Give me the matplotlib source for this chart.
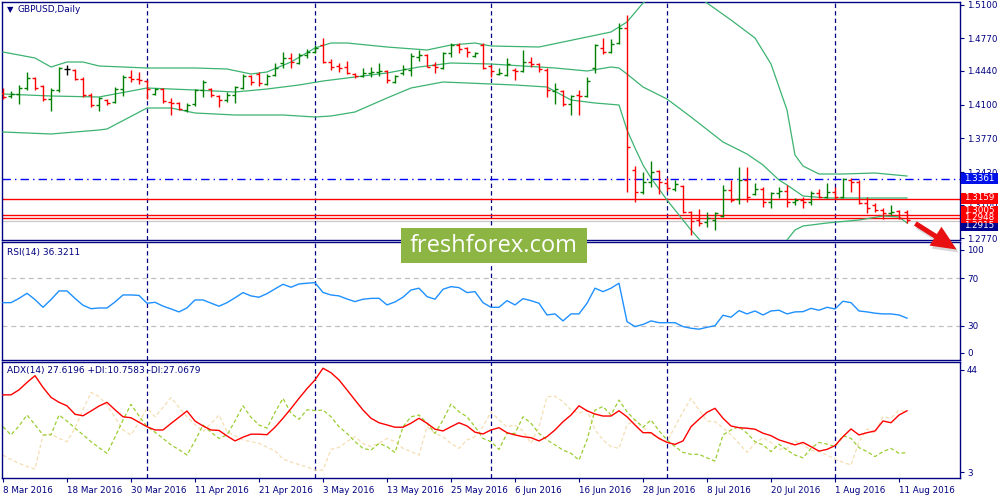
import matplotlib
matplotlib.use("Agg")
import matplotlib.pyplot as plt
from matplotlib.patches import Rectangle, FancyArrowPatch

# ---- data (GBPUSD daily, 8 Mar - 12 Aug 2016) ----
tick_idx = [0, 8, 16, 24, 32, 40, 48, 56, 64, 72, 80, 88, 96, 104, 112]
tick_lbl = ["8 Mar 2016", "18 Mar 2016", "30 Mar 2016", "11 Apr 2016", "21 Apr 2016",
            "3 May 2016", "13 May 2016", "25 May 2016", "6 Jun 2016", "16 Jun 2016",
            "28 Jun 2016", "8 Jul 2016", "20 Jul 2016", "1 Aug 2016", "11 Aug 2016"]
month_idx = [18, 39, 61, 83, 104]   # first bar of Apr, May, Jun, Jul, Aug

opens = [1.422, 1.419, 1.421, 1.427, 1.437, 1.429, 1.416, 1.425, 1.446, 1.445,
         1.436, 1.420, 1.410, 1.415, 1.413, 1.426, 1.438, 1.436, 1.434, 1.421,
         1.426, 1.413, 1.412, 1.405, 1.411, 1.425, 1.426, 1.419, 1.415, 1.420,
         1.427, 1.439, 1.441, 1.431, 1.440, 1.452, 1.457, 1.452, 1.460, 1.463,
         1.470, 1.453, 1.449, 1.448, 1.441, 1.439, 1.442, 1.443, 1.444, 1.433,
         1.442, 1.445, 1.458, 1.460, 1.450, 1.447, 1.462, 1.470, 1.467, 1.459,
         1.470, 1.449, 1.441, 1.440, 1.445, 1.444, 1.453, 1.451, 1.445, 1.424,
         1.424, 1.411, 1.420, 1.419, 1.447, 1.467, 1.463, 1.472, 1.487, 1.345,
         1.323, 1.333, 1.344, 1.332, 1.326, 1.329, 1.303, 1.295, 1.293, 1.295,
         1.299, 1.325, 1.316, 1.335, 1.321, 1.326, 1.313, 1.322, 1.324, 1.313,
         1.315, 1.313, 1.322, 1.318, 1.323, 1.318, 1.335, 1.333, 1.312, 1.310,
         1.305, 1.302, 1.304, 1.303]
highs = [1.427, 1.424, 1.430, 1.443, 1.438, 1.430, 1.427, 1.448, 1.450, 1.446,
         1.438, 1.422, 1.418, 1.416, 1.428, 1.440, 1.445, 1.443, 1.435, 1.427,
         1.427, 1.417, 1.413, 1.412, 1.426, 1.435, 1.427, 1.420, 1.423, 1.429,
         1.441, 1.440, 1.443, 1.441, 1.452, 1.463, 1.462, 1.462, 1.466, 1.470,
         1.477, 1.456, 1.452, 1.454, 1.442, 1.447, 1.448, 1.452, 1.445, 1.440,
         1.450, 1.462, 1.465, 1.461, 1.453, 1.463, 1.472, 1.472, 1.468, 1.463,
         1.472, 1.450, 1.447, 1.457, 1.447, 1.465, 1.458, 1.452, 1.447, 1.432,
         1.425, 1.420, 1.425, 1.438, 1.471, 1.477, 1.476, 1.492, 1.500, 1.349,
         1.343, 1.354, 1.345, 1.337, 1.335, 1.330, 1.304, 1.306, 1.303, 1.303,
         1.330, 1.335, 1.348, 1.348, 1.332, 1.328, 1.323, 1.328, 1.330, 1.317,
         1.318, 1.324, 1.326, 1.332, 1.328, 1.337, 1.337, 1.335, 1.318, 1.312,
         1.307, 1.310, 1.305, 1.305]
lows = [1.416, 1.417, 1.411, 1.425, 1.425, 1.414, 1.404, 1.423, 1.440, 1.435,
        1.418, 1.408, 1.404, 1.410, 1.412, 1.419, 1.433, 1.431, 1.416, 1.420,
        1.412, 1.400, 1.405, 1.403, 1.409, 1.418, 1.418, 1.408, 1.413, 1.412,
        1.426, 1.430, 1.429, 1.430, 1.439, 1.447, 1.447, 1.451, 1.457, 1.462,
        1.452, 1.445, 1.443, 1.441, 1.437, 1.438, 1.438, 1.439, 1.432, 1.432,
        1.440, 1.439, 1.454, 1.448, 1.442, 1.446, 1.458, 1.462, 1.458, 1.458,
        1.446, 1.438, 1.440, 1.439, 1.435, 1.443, 1.448, 1.443, 1.418, 1.411,
        1.409, 1.400, 1.400, 1.418, 1.442, 1.461, 1.462, 1.471, 1.323, 1.313,
        1.321, 1.328, 1.321, 1.324, 1.324, 1.302, 1.280, 1.289, 1.288, 1.285,
        1.298, 1.313, 1.311, 1.313, 1.320, 1.308, 1.307, 1.317, 1.308, 1.310,
        1.307, 1.310, 1.317, 1.317, 1.316, 1.317, 1.323, 1.311, 1.302, 1.303,
        1.296, 1.300, 1.296, 1.292]
closes = [1.418, 1.421, 1.427, 1.437, 1.427, 1.416, 1.425, 1.447, 1.446, 1.436,
          1.420, 1.410, 1.417, 1.412, 1.426, 1.438, 1.436, 1.435, 1.426, 1.426,
          1.414, 1.412, 1.406, 1.410, 1.425, 1.433, 1.420, 1.415, 1.420, 1.428,
          1.439, 1.433, 1.432, 1.439, 1.447, 1.457, 1.453, 1.460, 1.463, 1.467,
          1.453, 1.448, 1.447, 1.442, 1.439, 1.442, 1.443, 1.444, 1.435, 1.439,
          1.446, 1.459, 1.460, 1.448, 1.448, 1.462, 1.470, 1.466, 1.463, 1.462,
          1.447, 1.444, 1.442, 1.451, 1.444, 1.453, 1.451, 1.446, 1.425, 1.426,
          1.411, 1.419, 1.419, 1.434, 1.470, 1.463, 1.471, 1.487, 1.368, 1.323,
          1.333, 1.343, 1.333, 1.327, 1.331, 1.303, 1.294, 1.292, 1.297, 1.302,
          1.325, 1.315, 1.335, 1.318, 1.326, 1.313, 1.322, 1.324, 1.313, 1.315,
          1.313, 1.322, 1.318, 1.323, 1.318, 1.336, 1.333, 1.312, 1.307, 1.305,
          1.302, 1.303, 1.297, 1.2948]

# Bollinger bands (20, 2), sampled along the curves
bb_up_idx = [0, 4, 6, 8, 10, 12, 18, 24, 28, 31, 33, 36, 39, 41, 43, 48, 53, 56, 59, 61,
             67, 70, 73, 76, 78, 80, 82, 84, 86, 88, 91, 94, 96, 98, 99, 100, 102, 105, 109, 113]
bb_up = [1.463, 1.457, 1.448, 1.453, 1.453, 1.449, 1.447, 1.447, 1.446, 1.441,
         1.443, 1.453, 1.467, 1.472, 1.472, 1.468, 1.465, 1.470, 1.472, 1.469,
         1.468, 1.473, 1.478, 1.483, 1.493, 1.512, 1.523, 1.529, 1.523, 1.512,
         1.495, 1.477, 1.451, 1.405, 1.360, 1.349, 1.341, 1.341, 1.342, 1.339]
bb_mid_idx = [0, 6, 12, 18, 24, 29, 33, 37, 40, 44, 48, 52, 56, 61, 65, 69, 73, 76, 77, 78,
              80, 83, 86, 90, 93, 95, 97, 98, 100, 103, 113]
bb_mid = [1.421, 1.419, 1.418, 1.427, 1.425, 1.423, 1.426, 1.430, 1.434, 1.438,
          1.442, 1.448, 1.452, 1.451, 1.449, 1.447, 1.444, 1.448, 1.447, 1.441,
          1.428, 1.416, 1.398, 1.373, 1.361, 1.350, 1.335, 1.330, 1.319, 1.317, 1.317]
bb_low_idx = [0, 6, 12, 13, 18, 21, 24, 29, 35, 39, 41, 44, 48, 51, 55, 61, 64, 68, 71, 74,
              77, 78, 79, 80, 81, 83, 86, 88, 91, 94, 96, 97, 98, 99, 100, 103, 107, 110, 112, 113]
bb_low = [1.383, 1.381, 1.385, 1.386, 1.407, 1.407, 1.402, 1.400, 1.400, 1.398,
          1.399, 1.403, 1.417, 1.427, 1.433, 1.431, 1.430, 1.428, 1.415, 1.412,
          1.410, 1.385, 1.367, 1.350, 1.337, 1.315, 1.285, 1.267, 1.250, 1.245,
          1.253, 1.263, 1.275, 1.285, 1.289, 1.292, 1.295, 1.299, 1.298, 1.292]

rsi = [49.4, 49.4, 53, 57.3, 52, 45.5, 52, 59.3, 59.3, 53,
       47.2, 44.3, 44.9, 44.9, 50, 55.9, 55.9, 55.5, 48.9, 49.7,
       46.5, 44.1, 41.6, 45, 51.7, 51.7, 49, 46.4, 49.4, 53.5,
       57.9, 55.1, 54, 57, 61, 64.9, 62.4, 65.2, 65.8, 66.3,
       58, 55.9, 55.1, 52.5, 50.3, 52.3, 53, 53.1, 47.5, 50,
       54, 60.1, 61.6, 54.5, 52.3, 60.7, 62.9, 62.1, 57.9, 58.7,
       49.4, 45.5, 45.5, 51.1, 47.5, 52.8, 51.1, 48.9, 39, 39.9,
       34, 39.9, 39.9, 48.9, 61.6, 58.7, 61.6, 65.8, 33.4, 29.2,
       31, 34, 32.5, 32.5, 32.5, 29.2, 27.8, 27, 28.6, 30,
       38.8, 37.1, 42.7, 39.9, 42.4, 39, 42.4, 43, 39.9, 41.6,
       41.8, 44.6, 43, 45.5, 44.1, 50.6, 49.4, 42.4, 41.6, 40.5,
       39.9, 39.9, 39, 36.3]

adx = [34, 34, 36, 39, 41.7, 37, 33, 31, 29.6, 26.2,
       25.6, 27.5, 29.5, 31, 28, 25.2, 24.8, 23, 21.2, 19.9,
       19.9, 22.5, 25, 27.5, 23.5, 21.5, 19.9, 19.7, 17.5, 15.5,
       17, 18.2, 18.2, 18, 21, 24.6, 28.5, 32.6, 36.5, 40,
       44.7, 42.9, 40, 36, 31.9, 27.9, 24.6, 22.8, 21.9, 21,
       21, 22.6, 24.6, 22.6, 20.2, 19.5, 21.2, 22.8, 21.5, 19,
       18.3, 19.9, 20.8, 18.8, 17.9, 17.2, 16.8, 15.5, 17.2, 19.9,
       23.2, 25.9, 29.6, 27.6, 26.3, 25.5, 25.5, 27.6, 25.2, 21.9,
       18.8, 18.8, 16.5, 14.9, 14.1, 15.5, 21.2, 24.2, 27, 28.6,
       24.6, 21.5, 20.8, 20.6, 20.2, 18.6, 17.6, 15.9, 14.9, 13.9,
       14.9, 13.2, 11.4, 12.1, 13.6, 17.2, 20.3, 17.9, 18.8, 19.5,
       23.5, 22.8, 25.9, 27.6]
plus_di = [21.2, 17.9, 21.5, 25.9, 22, 17.9, 17.9, 25.9, 23.5, 20.6,
           18, 15.2, 12.8, 10.5, 17, 23.9, 30.2, 25.5, 21.2, 19,
           16.5, 13.9, 12, 9.8, 15.5, 21.9, 19, 16.5, 17.9, 23.5,
           29.6, 25, 21.9, 20.6, 27, 32.6, 26.6, 24.2, 28, 27.7,
           27.9, 25.2, 21.2, 18.5, 15.2, 12.5, 11.8, 14.5, 13.2, 10.8,
           21.2, 25.2, 25.9, 22.6, 18.5, 23.9, 30.3, 27.2, 25.2, 21.2,
           16.5, 15.2, 12.1, 18.5, 18.5, 25.2, 22.6, 18.5, 15.9, 13.9,
           11.8, 10.5, 7.8, 15.9, 27.9, 29.3, 25.9, 31.9, 27.2, 23.9,
           21, 23.9, 19.6, 15.9, 13.2, 10.9, 10.1, 10.1, 8.7, 7.4,
           17.9, 19.9, 21.2, 18.6, 15.2, 13.9, 11.2, 14.2, 11.8, 9.8,
           8.7, 12.5, 14.9, 14.2, 13.2, 17.6, 16.5, 12.8, 11.2, 9.2,
           11.2, 12.5, 10.5, 10.8]
minus_di = [9.8, 8, 6.5, 5.2, 4.2, 17.9, 18.3, 16.5, 15.2, 20.6,
            28, 35, 33.3, 29.9, 25, 19.9, 17.9, 23, 28.6, 25.2,
            29, 32.9, 29, 25.2, 22, 19.2, 22.5, 25.9, 19.2, 17.5,
            15.9, 15.2, 14.5, 13, 11.5, 8.2, 7, 6, 5, 3.8,
            3.8, 12.1, 12.9, 15.2, 17.2, 14.5, 13.2, 14.5, 16.5, 15.2,
            12.5, 11.2, 9.8, 21.2, 18.5, 17.2, 14.5, 12.5, 15.9, 17.2,
            21.2, 27.2, 23.9, 21.2, 21.9, 19.5, 14.5, 21.2, 33.3, 33.4,
            31.3, 27.9, 26.6, 27.9, 19.9, 15.9, 13.2, 12.5, 21.9, 23.9,
            21.2, 17.9, 16.9, 15.2, 21.2, 27.2, 32.6, 27.9, 23.5, 23.2,
            20.8, 17.9, 14.5, 10.9, 14.5, 16.8, 14.9, 12.1, 12.5, 15.5,
            13.9, 11.8, 11.2, 9.8, 8.2, 6.9, 5.8, 15.2, 20.3, 18.6,
            25.2, 24.6, 27.9, 27.1]

price_ticks = [1.5100, 1.4770, 1.4440, 1.4100, 1.3770, 1.3430, 1.3100, 1.2770]
level_blue = 1.3361
levels_red = [1.3159, 1.3005, 1.2967]
bid_line = 1.2940

NAVY = "#000080"
GREEN_BAR = "#008000"
RED = "#FF0000"
BB_COL = "#3CB371"

plt.rcParams['font.family'] = ['DejaVu Sans']

fig = plt.figure(figsize=(10, 5), dpi=100)
W, H = 1000.0, 500.0


def box(top, bottom):
    return [2 / W, 1 - bottom / H, 958 / W, (bottom - top) / H]


ax = fig.add_axes(box(2, 240))
ax_rsi = fig.add_axes(box(242, 360))
ax_adx = fig.add_axes(box(362, 478))

n = len(closes)
xs = list(range(n))

# ---- price bars ----
cols = []
for o, c in zip(opens, closes):
    if c > o:
        cols.append(GREEN_BAR)
    elif c < o:
        cols.append(RED)
    else:
        cols.append("black")
ax.vlines(xs, lows, highs, colors=cols, lw=1.0, zorder=4)
ax.hlines(opens, [x - 0.35 for x in xs], xs, colors=cols, lw=1.0, zorder=4)
ax.hlines(closes, xs, [x + 0.35 for x in xs], colors=cols, lw=1.0, zorder=4)

# bollinger bands
ax.plot(bb_up_idx, bb_up, color=BB_COL, lw=0.9, zorder=3)
ax.plot(bb_mid_idx, bb_mid, color=BB_COL, lw=0.9, zorder=3)
ax.plot(bb_low_idx, bb_low, color=BB_COL, lw=0.9, zorder=3)

# horizontal levels
ax.axhline(level_blue, color="#0000FF", lw=1.0, ls=(0, (6, 3, 1, 3)), zorder=2)
for lv in levels_red:
    ax.axhline(lv, color=RED, lw=1.0, zorder=2)
ax.axhline(bid_line, color="#C8C8C8", lw=0.9, zorder=1)

ax.set_ylim(1.275, 1.513)
ax.set_yticks(price_ticks)
ax.set_yticklabels(["%.4f" % p for p in price_ticks])

# ---- RSI ----
ax_rsi.plot(xs, rsi, color="#1E90FF", lw=1.0, zorder=3)
for lv in (70, 30):
    ax_rsi.axhline(lv, color="#C0C0C0", lw=0.9, ls=(0, (4, 3)), zorder=1)
ax_rsi.set_ylim(1.0, 100.6)
ax_rsi.set_yticks([94, 70, 30, 7])
ax_rsi.set_yticklabels(["100", "70", "30", "0"])

# ---- ADX ----
ax_adx.plot(xs, minus_di, color="#F5DEB3", lw=0.9, ls=(0, (3, 2)), zorder=2)
ax_adx.plot(xs, plus_di, color="#9ACD32", lw=0.9, ls=(0, (3, 2)), zorder=2)
ax_adx.plot(xs, adx, color=RED, lw=1.0, zorder=3)
ax_adx.set_ylim(0.6, 47.2)
ax_adx.set_yticks([44, 3])
ax_adx.set_yticklabels(["44", "3"])

for a in (ax, ax_rsi, ax_adx):
    a.set_xlim(-0.125, 119.625)
    for x in month_idx:
        a.axvline(x, color=NAVY, lw=0.9, ls=(0, (3.5, 2.5)), zorder=1)
    for s in a.spines.values():
        s.set_color(NAVY)
        s.set_linewidth(1.0)
    a.yaxis.tick_right()
    a.tick_params(axis="y", direction="out", length=3, width=0.8, color=NAVY,
                  labelcolor=NAVY, labelsize=6.3, pad=2)
    a.set_xticks([])

ax_adx.set_xticks(tick_idx)
ax_adx.set_xticklabels(tick_lbl, ha="left")
ax_adx.tick_params(axis="x", direction="out", length=3, width=0.8, color=NAVY,
                   labelcolor=NAVY, labelsize=6.3, pad=3)

# ---- panel captions ----
fig.text(10 / W, 1 - 10 / H, "\u25BC", fontsize=6, color=NAVY, ha="center", va="center")
fig.text(18 / W, 1 - 10 / H, "GBPUSD,Daily", fontsize=6.5, color=NAVY, va="center")
fig.text(7 / W, 1 - 252 / H, "RSI(14) 36.3211", fontsize=6.5, color=NAVY, va="center")
fig.text(7 / W, 1 - 370 / H, "ADX(14) 27.6196 +DI:10.7583 -DI:27.0679",
         fontsize=6.5, color=NAVY, va="center")

# ---- price labels on the right scale ----
price_boxes = [("1.2915", 225, "#000090"), ("1.3005", 211, RED),
               ("1.2948", 217.5, RED), ("1.3159", 198, RED), ("1.3361", 178.5, "#0010E8")]
for txt, yc, colr in price_boxes:
    fig.add_artist(Rectangle((961 / W, 1 - (yc + 5.5) / H), 37 / W, 11 / H,
                             transform=fig.transFigure, facecolor=colr,
                             edgecolor="none", zorder=5))
    fig.text(964 / W, 1 - yc / H, txt, fontsize=6.3, color="white", va="center",
             zorder=6)

# ---- watermark ----
fig.add_artist(Rectangle((401 / W, 1 - 263 / H), 186 / W, 35 / H, transform=fig.transFigure,
                         facecolor="#8DB543", edgecolor="none", zorder=7))
fig.text(494 / W, 1 - 246 / H, "freshforex.com", fontsize=17, color="white",
         family=["Open Sans", "DejaVu Sans"], ha="center", va="center", zorder=8)

# ---- red arrow (with a faint shadow) ----
fig.add_artist(FancyArrowPatch((915 / W, 1 - 225 / H), (961 / W, 1 - 254 / H),
                               transform=fig.transFigure,
                               arrowstyle="simple,head_length=0.9,head_width=0.8,tail_width=0.18",
                               mutation_scale=20, color="#B0B0B0", alpha=0.5, lw=0, zorder=9))
fig.add_artist(FancyArrowPatch((913 / W, 1 - 222 / H), (959 / W, 1 - 251 / H),
                               transform=fig.transFigure,
                               arrowstyle="simple,head_length=0.9,head_width=0.8,tail_width=0.18",
                               mutation_scale=20, color="#E81010", lw=0, zorder=10))

fig.savefig("out.png", dpi=100, facecolor="white")
